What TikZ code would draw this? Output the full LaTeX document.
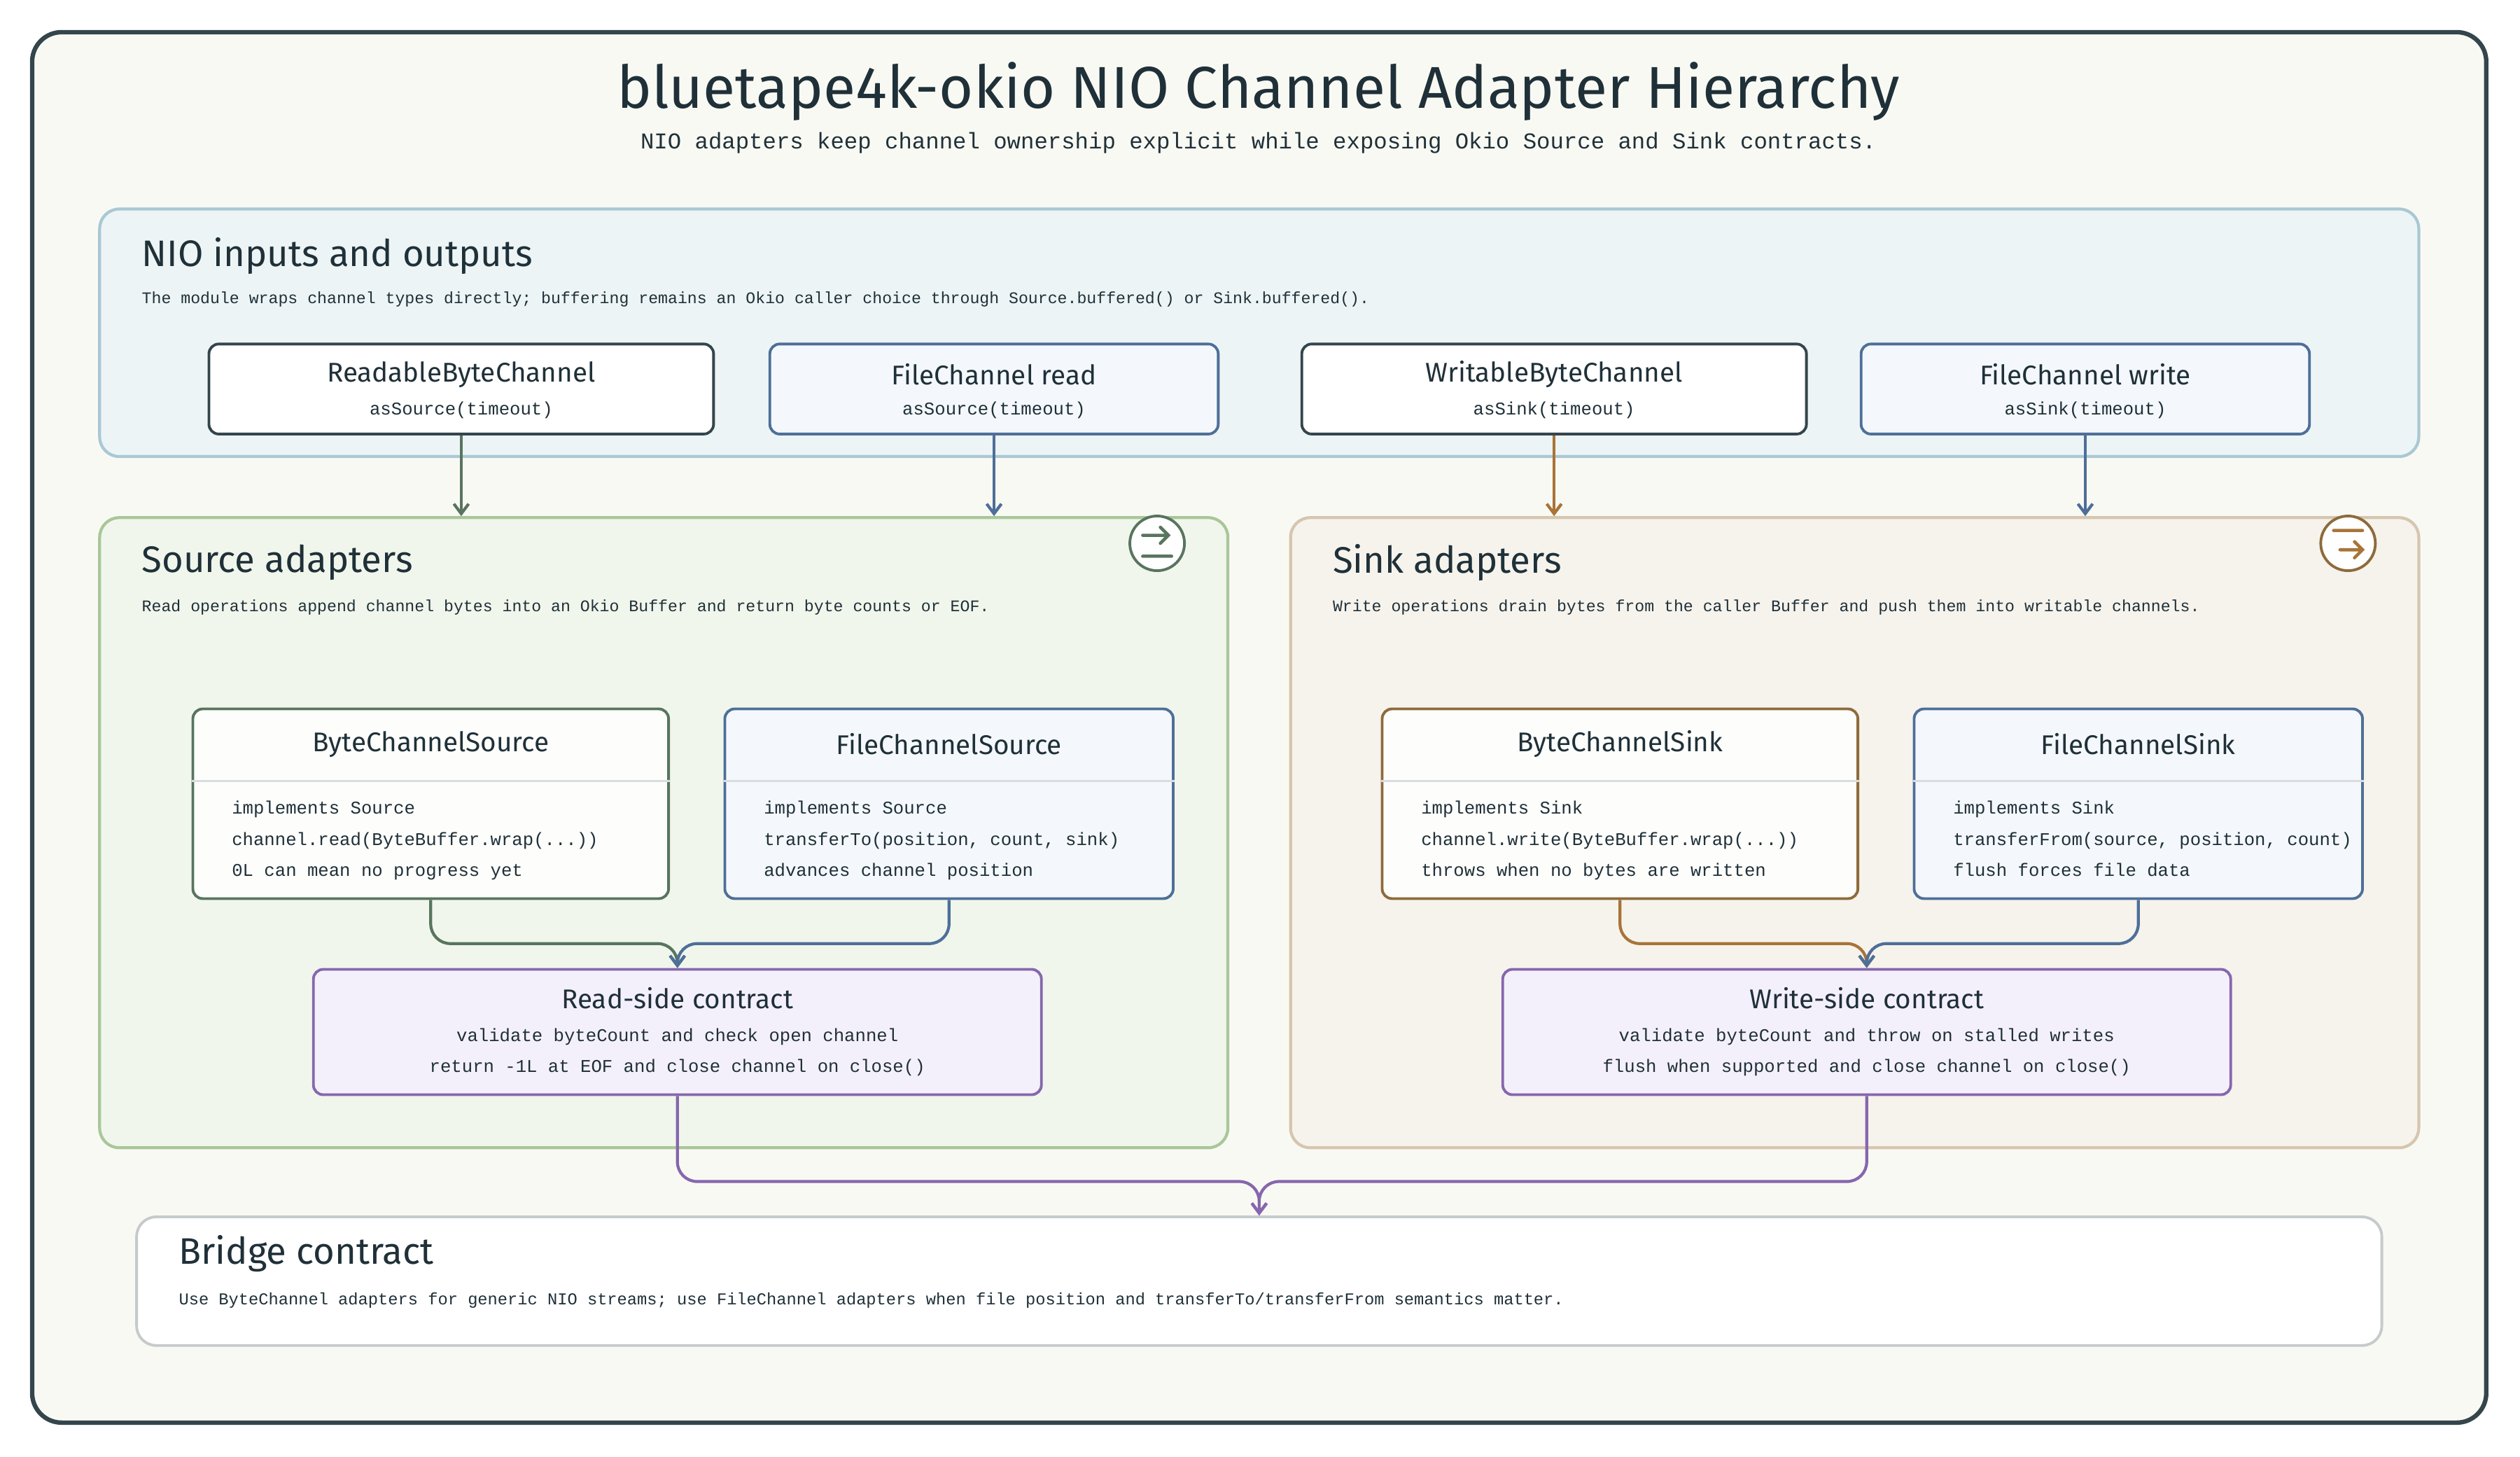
\documentclass[tikz,border=0pt]{standalone}
\usepackage{fontspec}
\setmainfont{Fira Sans}
\setmonofont{Liberation Mono}
\usetikzlibrary{arrows.meta}
\definecolor{ink}{HTML}{1F3038}
\definecolor{bgc}{HTML}{F9F9F4}
\definecolor{frame}{HTML}{34454C}
\definecolor{nioF}{HTML}{ECF4F5}\definecolor{nioS}{HTML}{A9C8D3}
\definecolor{srcF}{HTML}{F1F6EC}\definecolor{srcS}{HTML}{A9C79A}
\definecolor{snkF}{HTML}{F6F3ED}\definecolor{snkS}{HTML}{D5C6AE}
\definecolor{grn}{HTML}{58755E}\definecolor{blu}{HTML}{4E6F98}
\definecolor{brn}{HTML}{8E6B3C}\definecolor{brnA}{HTML}{A87438}
\definecolor{pur}{HTML}{8667AD}\definecolor{purF}{HTML}{F4F0FB}
\definecolor{bluF}{HTML}{F4F8FC}\definecolor{div}{HTML}{D8DDDF}
\begin{document}
\begin{tikzpicture}[x=0.02296cm,y=-0.02296cm,
  panel/.style={draw,line width=1.2pt,rounded corners=8pt},
  box/.style={draw,line width=1.1pt,rounded corners=4pt,inner sep=0pt},
  ttl/.style={font=\fontsize{15}{18}\selectfont,text=ink,anchor=west,inner sep=0pt},
  dsc/.style={font=\ttfamily\fontsize{6.6}{8}\selectfont,text=ink,anchor=west,inner sep=0pt},
  btl/.style={font=\fontsize{11}{13}\selectfont,text=ink},
  bsub/.style={font=\ttfamily\fontsize{7.3}{9}\selectfont,text=ink},
  body/.style={font=\ttfamily\fontsize{7.3}{12.7}\selectfont,text=ink,anchor=north west,align=left,inner sep=0pt},
  conn/.style={line width=1.2pt,rounded corners=8pt,-{Straight Barb[length=4pt,width=6pt]}}]
\useasboundingbox (0,0) rectangle (1568,906);
\fill[white] (0,0) rectangle (1568,906);
\draw[frame,fill=bgc,line width=1.8pt,rounded corners=12pt] (20,20) rectangle (1547,885);
\node[font=\fontsize{24}{28}\selectfont,text=ink] (title) at (783,57) {bluetape4k-okio NIO Channel Adapter Hierarchy};
\node[font=\ttfamily\fontsize{9.2}{11}\selectfont,text=ink] (sub) at (783,89) {NIO adapters keep channel ownership explicit while exposing Okio Source and Sink contracts.};
% NIO panel
\node[panel,draw=nioS,fill=nioF,minimum width=1443*0.02296cm,minimum height=154*0.02296cm] (nio) at (783.5,207) {};
\node[ttl] (niot) at (88,159) {NIO inputs and outputs};
\node[dsc] (niod) at (88,186) {The module wraps channel types directly; buffering remains an Okio caller choice through Source.buffered() or Sink.buffered().};
% inputs
\node[box,draw=frame,fill=white,minimum width=314*0.02296cm,minimum height=56*0.02296cm] (ia) at (287,242) {};
\node[box,draw=blu,fill=bluF,minimum width=279*0.02296cm,minimum height=56*0.02296cm] (ib) at (618.5,242) {};
\node[box,draw=frame,fill=white,minimum width=314*0.02296cm,minimum height=56*0.02296cm] (ic) at (967,242) {};
\node[box,draw=blu,fill=bluF,minimum width=279*0.02296cm,minimum height=56*0.02296cm] (id) at (1297.5,242) {};
\node[btl] (iat) at (287,233) {ReadableByteChannel};\node[bsub] (ias) at (287,255) {asSource(timeout)};
\node[btl] (ibt) at (618.5,233) {FileChannel read};\node[bsub] (ibs) at (618.5,255) {asSource(timeout)};
\node[btl] (ict) at (967,233) {WritableByteChannel};\node[bsub] (ics) at (967,255) {asSink(timeout)};
\node[btl] (idt) at (1297.5,233) {FileChannel write};\node[bsub] (ids) at (1297.5,255) {asSink(timeout)};
% panels
\node[panel,draw=srcS,fill=srcF,minimum width=702*0.02296cm,minimum height=392*0.02296cm] (src) at (413,518) {};
\node[panel,draw=snkS,fill=snkF,minimum width=702*0.02296cm,minimum height=392*0.02296cm] (snk) at (1154,518) {};
\node[ttl] (srct) at (88,350) {Source adapters};
\node[dsc] (srcd) at (88,378) {Read operations append channel bytes into an Okio Buffer and return byte counts or EOF.};
\node[ttl] (snkt) at (829,350) {Sink adapters};
\node[dsc] (snkd) at (829,378) {Write operations drain bytes from the caller Buffer and push them into writable channels.};
% icons
\node[circle,draw=grn,fill=white,line width=1.1pt,minimum size=34*0.02296cm] (ico1) at (720,338) {};
\draw[grn,line width=1.3pt,line cap=round] (711,346)--(729,346) (711,333)--(727,333) (722,328)--(727,333)--(722,338);
\node[circle,draw=brn,fill=white,line width=1.1pt,minimum size=34*0.02296cm] (ico2) at (1461,338) {};
\draw[brnA,line width=1.3pt,line cap=round] (1452,330)--(1470,330) (1456,342)--(1470,342) (1465,337)--(1470,342)--(1465,347);
% input arrows
\draw[conn,grn] (ia.south) -- (ia.south |- src.north);
\draw[conn,blu] (ib.south) -- (ib.south |- src.north);
\draw[conn,brnA] (ic.south) -- (ic.south |- snk.north);
\draw[conn,blu] (id.south) -- (id.south |- snk.north);
% class boxes
\node[box,draw=grn,fill=white!60!bgc,minimum width=296*0.02296cm,minimum height=118*0.02296cm] (bcs) at (268,500) {};
\node[box,draw=blu,fill=bluF,minimum width=279*0.02296cm,minimum height=118*0.02296cm] (fcs) at (590.5,500) {};
\node[box,draw=brn,fill=white!60!bgc,minimum width=296*0.02296cm,minimum height=118*0.02296cm] (bck) at (1008,500) {};
\node[box,draw=blu,fill=bluF,minimum width=279*0.02296cm,minimum height=118*0.02296cm] (fck) at (1330.5,500) {};
\foreach \n in {bcs,fcs,bck,fck} \draw[div,line width=0.8pt] (\n.west |- 0,486) -- (\n.east |- 0,486);
\node[btl] (bcst) at (268,463) {ByteChannelSource};
\node[btl] (fcst) at (590.5,463) {FileChannelSource};
\node[btl] (bckt) at (1008,463) {ByteChannelSink};
\node[btl] (fckt) at (1330.5,463) {FileChannelSink};
\node[body] (bcsb) at (144,498) {implements Source\\channel.read(ByteBuffer.wrap(...))\\0L can mean no progress yet};
\node[body] (fcsb) at (475,498) {implements Source\\transferTo(position, count, sink)\\advances channel position};
\node[body] (bckb) at (884,498) {implements Sink\\channel.write(ByteBuffer.wrap(...))\\throws when no bytes are written};
\node[body] (fckb) at (1215,498) {implements Sink\\transferFrom(source, position, count)\\flush forces file data};
% contracts
\node[box,draw=pur,fill=purF,minimum width=453*0.02296cm,minimum height=78*0.02296cm] (rc) at (421.5,642) {};
\node[box,draw=pur,fill=purF,minimum width=453*0.02296cm,minimum height=78*0.02296cm] (wc) at (1161.5,642) {};
\node[btl] (rct) at (421.5,621) {Read-side contract};
\node[bsub] (rc1) at (421.5,645) {validate byteCount and check open channel};
\node[bsub] (rc2) at (421.5,664) {return -1L at EOF and close channel on close()};
\node[btl] (wct) at (1161.5,621) {Write-side contract};
\node[bsub] (wc1) at (1161.5,645) {validate byteCount and throw on stalled writes};
\node[bsub] (wc2) at (1161.5,664) {flush when supported and close channel on close()};
\coordinate (rj) at (421.5,587);
\coordinate (wj) at (1161.5,587);
\draw[conn,grn] (bcs.south) |- (rj) -- (rc.north);
\draw[conn,blu] (fcs.south) |- (rj) -- (rc.north);
\draw[conn,brnA] (bck.south) |- (wj) -- (wc.north);
\draw[conn,blu] (fck.south) |- (wj) -- (wc.north);
% bridge
\node[box,draw=div!80!gray,fill=white,rounded corners=8pt,minimum width=1397*0.02296cm,minimum height=80*0.02296cm] (br) at (783.5,797) {};
\node[ttl] (brt) at (111,780) {Bridge contract};
\node[dsc,font=\ttfamily\fontsize{6.75}{8}\selectfont] (brd) at (111,809) {Use ByteChannel adapters for generic NIO streams; use FileChannel adapters when file position and transferTo/transferFrom semantics matter.};
\coordinate (bj) at (783.5,735);
\draw[conn,pur] (rc.south) |- (bj) -- (br.north);
\draw[conn,pur] (wc.south) |- (bj) -- (br.north);
\end{tikzpicture}
\end{document}
